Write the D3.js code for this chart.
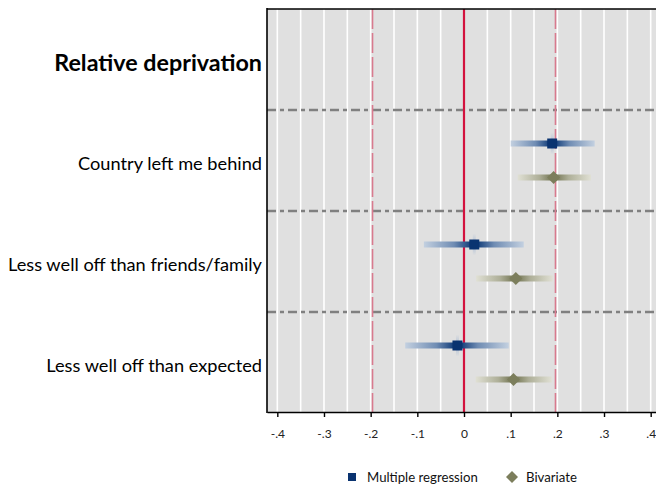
<!DOCTYPE html>
<html>
<head>
<meta charset="utf-8">
<script src="https://cdn.jsdelivr.net/npm/d3@7"></script>
<style>
  html, body { margin: 0; padding: 0; background: #fff; }
  svg { display: block; font-family: Lato, "Open Sans", sans-serif; }
</style>
</head>
<body>
<svg id="chart" width="656" height="491"></svg>
<script>
// Row labels (first row is a section header with no estimates)
const rows = ["Relative deprivation", "Country left me behind", "Less well off than friends/family", "Less well off than expected"];
const headerRows = ["Relative deprivation"];

// Multiple regression: estimate and 95% interval
const mrEst = [null, 0.189, 0.022, -0.014];
const mrLo  = [null, 0.100, -0.086, -0.126];
const mrHi  = [null, 0.280, 0.128, 0.096];

// Bivariate: estimate and 95% interval
const bvEst = [null, 0.192, 0.111, 0.106];
const bvLo  = [null, 0.115, 0.026, 0.025];
const bvHi  = [null, 0.272, 0.190, 0.188];

const tickValues = [-0.4, -0.3, -0.2, -0.1, 0, 0.1, 0.2, 0.3, 0.4];
const tickLabels = ["-.4", "-.3", "-.2", "-.1", "0", ".1", ".2", ".3", ".4"];
const gridValues = d3.range(-8, 9).map(i => i * 0.05);
const refLines = [-0.196, 0.196];
const seriesNames = ["Multiple regression", "Bivariate"];

const svg = d3.select("#chart");
const pLeft = 267, pRight = 661, pTop = 9, pBottom = 413;

const x = d3.scaleLinear().domain([-0.4221, 0.4221]).range([pLeft, pRight]);
const y = d3.scaleBand().domain(rows).range([pTop, pBottom]);

// plot background
svg.append("rect").attr("x", pLeft).attr("y", pTop)
  .attr("width", pRight - pLeft).attr("height", pBottom - pTop).attr("fill", "#e0e0e0");

// vertical white grid
svg.append("g").selectAll("line").data(gridValues).join("line")
  .attr("x1", d => x(d)).attr("x2", d => x(d))
  .attr("y1", pTop).attr("y2", pBottom)
  .attr("stroke", "#fff").attr("stroke-width", 1.6);

// section separators
svg.append("g").selectAll("line").data(rows.slice(1)).join("line")
  .attr("x1", pLeft).attr("x2", pRight)
  .attr("y1", d => y(d)).attr("y2", d => y(d))
  .attr("stroke", "#808080").attr("stroke-width", 2.6)
  .attr("stroke-dasharray", "9,4,4,4");

// reference lines
svg.append("g").selectAll("line").data(refLines).join("line")
  .attr("x1", d => x(d)).attr("x2", d => x(d))
  .attr("y1", pTop).attr("y2", pBottom)
  .attr("stroke", "#d87a8e").attr("stroke-width", 1.6)
  .attr("stroke-dasharray", "20,4");
svg.append("line")
  .attr("x1", x(0)).attr("x2", x(0)).attr("y1", pTop).attr("y2", pBottom)
  .attr("stroke", "#d3123e").attr("stroke-width", 2.2);

// gradient definitions for interval bars: light at the ends, dark at the estimate
const defs = svg.append("defs");
function gradient(id, est, lo, hi, dark, mid, light) {
  const g = defs.append("linearGradient").attr("id", id)
    .attr("gradientUnits", "userSpaceOnUse")
    .attr("x1", x(lo)).attr("x2", x(hi)).attr("y1", 0).attr("y2", 0);
  const m = (x(est) - x(lo)) / (x(hi) - x(lo));
  g.append("stop").attr("offset", 0).attr("stop-color", light);
  g.append("stop").attr("offset", m * 0.6).attr("stop-color", mid);
  g.append("stop").attr("offset", m * 0.9).attr("stop-color", dark);
  g.append("stop").attr("offset", m + (1 - m) * 0.1).attr("stop-color", dark);
  g.append("stop").attr("offset", m + (1 - m) * 0.4).attr("stop-color", mid);
  g.append("stop").attr("offset", 1).attr("stop-color", light);
}
function vgradient(id, color) {
  const g = defs.append("linearGradient").attr("id", id)
    .attr("x1", 0).attr("x2", 0).attr("y1", 0).attr("y2", 1);
  g.append("stop").attr("offset", 0).attr("stop-color", color).attr("stop-opacity", 0);
  g.append("stop").attr("offset", 0.5).attr("stop-color", color).attr("stop-opacity", 0.8);
  g.append("stop").attr("offset", 1).attr("stop-color", color).attr("stop-opacity", 0);
}
vgradient("spike", "#9fb4d0");

const series = [
  { name: seriesNames[0], est: mrEst, lo: mrLo, hi: mrHi, dy: -17, dark: "#1d4680", mid: "#6f8cb3", light: "#c3d0e0", fill: "#0a3370", shape: "square" },
  { name: seriesNames[1], est: bvEst, lo: bvLo, hi: bvHi, dy: 17, dark: "#7e8060", mid: "#aeaf98", light: "#e0e0d4", fill: "#7c7e5c", shape: "diamond" }
];

series.forEach((s, si) => {
  const g = svg.append("g");
  rows.forEach((r, i) => {
    if (s.est[i] == null) return;
    const cy = y(r) + y.bandwidth() / 2 + s.dy;
    const gid = "ci" + si + "_" + i;
    gradient(gid, s.est[i], s.lo[i], s.hi[i], s.dark, s.mid, s.light);
    g.append("rect")
      .attr("x", x(s.lo[i])).attr("width", x(s.hi[i]) - x(s.lo[i]))
      .attr("y", cy - 3).attr("height", 6)
      .attr("fill", `url(#${gid})`);
    if (s.shape === "square") {
      g.append("rect").attr("x", x(s.est[i]) - 1.5).attr("width", 3)
        .attr("y", cy - 11).attr("height", 22).attr("fill", "url(#spike)");
      g.append("rect").attr("x", x(s.est[i]) - 5).attr("y", cy - 5)
        .attr("width", 10).attr("height", 10).attr("fill", s.fill);
    } else {
      const cx = x(s.est[i]);
      g.append("path")
        .attr("d", `M${cx},${cy - 6.5}L${cx + 6.5},${cy}L${cx},${cy + 6.5}L${cx - 6.5},${cy}Z`)
        .attr("fill", s.fill);
    }
  });
});

// frame: left axis line and top border
svg.append("line").attr("x1", pLeft).attr("x2", pLeft).attr("y1", pTop - 1).attr("y2", pBottom)
  .attr("stroke", "#000").attr("stroke-width", 1.6);
svg.append("line").attr("x1", pLeft).attr("x2", pRight).attr("y1", pTop).attr("y2", pTop)
  .attr("stroke", "#000").attr("stroke-width", 1.6);

// bottom axis
const xAxis = d3.axisBottom(x).tickValues(tickValues)
  .tickFormat((d, i) => tickLabels[i]).tickSize(5).tickSizeOuter(0).tickPadding(12);
const ax = svg.append("g").attr("transform", `translate(0,${pBottom - 1})`).call(xAxis);
ax.select(".domain").attr("stroke", "#000").attr("stroke-width", 1.6);
ax.selectAll(".tick line").attr("stroke", "#000").attr("stroke-width", 1.4);
ax.selectAll(".tick text").attr("font-size", 12).attr("fill", "#222")
  .attr("font-family", "Lato, 'Open Sans', sans-serif");

// row labels
svg.append("g").selectAll("text").data(rows).join("text")
  .attr("x", 262)
  .attr("y", d => y(d) + y.bandwidth() / 2 + (headerRows.includes(d) ? 11.5 : 9))
  .attr("text-anchor", "end")
  .attr("font-size", d => headerRows.includes(d) ? 23.3 : 18.2)
  .attr("font-weight", d => headerRows.includes(d) ? "bold" : "normal")
  .attr("fill", "#000")
  .text(d => d);

// legend
const lg = svg.append("g");
lg.append("rect").attr("x", 348).attr("y", 473).attr("width", 8).attr("height", 8).attr("fill", series[0].fill);
lg.append("text").attr("x", 367).attr("y", 482).attr("font-size", 13.2).attr("fill", "#111").text(seriesNames[0]);
lg.append("path").attr("d", "M512,471L518,477L512,483L506,477Z").attr("fill", series[1].fill);
lg.append("text").attr("x", 526).attr("y", 482).attr("font-size", 13.2).attr("fill", "#111").text(seriesNames[1]);
</script>
</body>
</html>
